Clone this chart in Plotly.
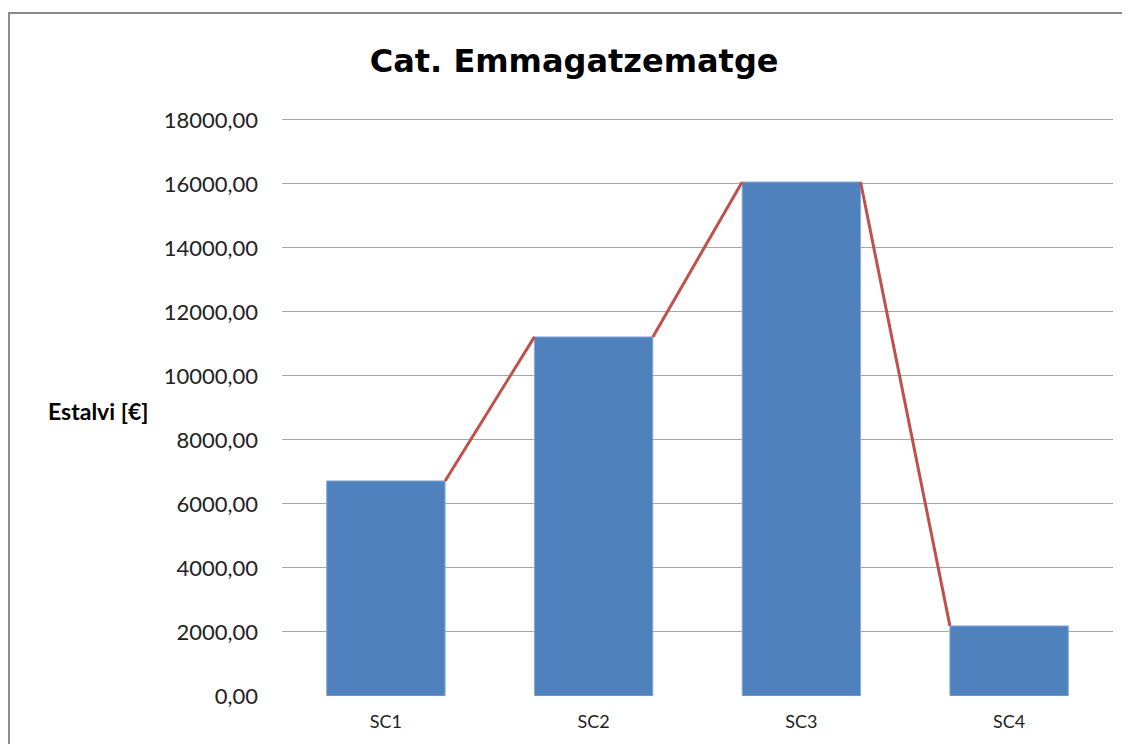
import plotly.graph_objects as go

categories = ["SC1", "SC2", "SC3", "SC4"]
estalvi = [6720, 11220, 16060, 2190]
y_ticks = [0, 2000, 4000, 6000, 8000, 10000, 12000, 14000, 16000, 18000]

bar_w = 0.57
pos = list(range(len(categories)))

# connector line: from right top corner of one bar to left top corner of the next
line_x, line_y = [], []
for i in range(len(estalvi) - 1):
    line_x += [pos[i] + bar_w / 2, pos[i + 1] - bar_w / 2, None]
    line_y += [estalvi[i], estalvi[i + 1], None]

fig = go.Figure()
fig.add_trace(go.Scatter(
    x=line_x, y=line_y, mode="lines",
    line=dict(color="#C0504D", width=3),
    connectgaps=False, showlegend=False, hoverinfo="skip"
))
fig.add_trace(go.Bar(
    x=pos, y=estalvi, width=bar_w,
    marker=dict(color="#4F81BD", line=dict(color="#8AACD8", width=1)),
    showlegend=False
))

fig.update_layout(
    width=1130, height=744,
    margin=dict(l=274, r=25, t=110, b=56),
    paper_bgcolor="white", plot_bgcolor="white",
    separators=",.",
    font=dict(family="Lato", color="#222222"),
    title=dict(
        text="<b>Cat. Emmagatzematge</b>",
        x=0.501, xanchor="center", y=0.929, yanchor="middle",
        font=dict(family="DejaVu Sans", size=32, color="black")
    ),
    xaxis=dict(
        range=[-0.5, 3.5], tickvals=pos, ticktext=categories,
        showgrid=False, zeroline=False, showline=False,
        tickfont=dict(size=18, color="#222222"), ticklabelstandoff=13
    ),
    yaxis=dict(
        range=[0, 18060], tickvals=y_ticks, tickformat=".2f",
        showgrid=True, gridcolor="#A8A8A8", gridwidth=1.4,
        zeroline=False, showline=False,
        tickfont=dict(size=22, color="#222222"), ticklabelstandoff=23
    ),
)

fig.add_annotation(
    text="<b>Estalvi [€]</b>", xref="paper", yref="paper",
    x=-0.222, y=0.493, xanchor="center", yanchor="middle",
    showarrow=False, font=dict(family="Lato", size=23, color="black")
)

# outer chart frame
fig.add_shape(
    type="rect", xref="paper", yref="paper",
    x0=-0.3285, y0=-0.2, x1=1.2, y1=1.1817,
    line=dict(color="#8C8C8C", width=2), layer="below"
)

fig.write_html("out.html")
